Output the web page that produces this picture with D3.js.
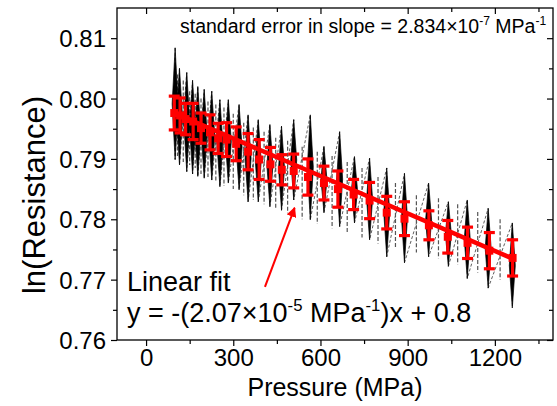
<!DOCTYPE html>
<html>
<head>
<meta charset="utf-8">
<script src="https://cdn.jsdelivr.net/npm/d3@7"></script>
<style>
  html, body { margin: 0; padding: 0; background: #fff; }
  svg { display: block; }
  text { font-family: Arial, "Liberation Sans", sans-serif; fill: #000; }
</style>
</head>
<body>
<svg id="chart" width="557" height="406"></svg>
<script>
// ---- Data ----
// Error-bar points: pressure (MPa), ln(R), standard error
const ptX  = [97, 117, 136, 162, 189, 220, 248, 277, 310, 351, 389, 428, 467, 508, 557, 612, 660, 714, 769, 828, 889, 973, 1038, 1106, 1181, 1261];
const ptY  = [0.7976, 0.7972, 0.7966, 0.7962, 0.7951, 0.7944, 0.7934, 0.7932, 0.7925, 0.7912, 0.7899, 0.7891, 0.7882, 0.7880, 0.7870, 0.7860, 0.7850, 0.7841, 0.7831, 0.7811, 0.7801, 0.7790, 0.7771, 0.7761, 0.7748, 0.7736];
const ptErr = [0.0028, 0.0029, 0.0026, 0.0030, 0.0025, 0.0029, 0.0025, 0.0028, 0.0028, 0.0030, 0.0033, 0.0028, 0.0025, 0.0028, 0.0030, 0.0028, 0.0030, 0.0025, 0.0030, 0.0027, 0.0028, 0.0024, 0.0027, 0.0026, 0.0030, 0.0030];

// Raw (noisy) resistance trace: main spike positions with their high / low extents
const rawX  = [100, 115, 140, 160, 178, 200, 226, 254, 283, 320, 351, 386, 426, 466, 508, 565, 612, 666, 717, 769, 828, 889, 972, 1040, 1105, 1177, 1260];
const rawHi = [0.8084, 0.8050, 0.8043, 0.8030, 0.8020, 0.8015, 0.8012, 0.7998, 0.7998, 0.7990, 0.7973, 0.7965, 0.7957, 0.7954, 0.7965, 0.7973, 0.7921, 0.7945, 0.7904, 0.7901, 0.7885, 0.7876, 0.7860, 0.7829, 0.7832, 0.7818, 0.7794];
const rawLo = [0.7899, 0.7890, 0.7879, 0.7875, 0.7871, 0.7868, 0.7865, 0.7854, 0.7860, 0.7849, 0.7829, 0.7829, 0.7821, 0.7815, 0.7832, 0.7799, 0.7811, 0.7788, 0.7794, 0.7766, 0.7738, 0.7728, 0.7738, 0.7722, 0.7702, 0.7686, 0.7653];
// Secondary (thinner) spikes between the main ones
const raw2X  = [108, 128, 150, 169, 189, 213, 240, 268, 300, 336, 369, 406, 446, 487, 537, 589, 640, 692, 743, 798, 858, 930, 1006, 1072, 1141, 1218];
const raw2Hi = [0.8040, 0.8030, 0.8012, 0.8008, 0.8000, 0.7995, 0.7990, 0.7985, 0.7975, 0.7960, 0.7952, 0.7945, 0.7935, 0.7930, 0.7920, 0.7912, 0.7905, 0.7895, 0.7885, 0.7870, 0.7860, 0.7840, 0.7835, 0.7825, 0.7812, 0.7800];
const raw2Lo = [0.7905, 0.7895, 0.7890, 0.7885, 0.7875, 0.7870, 0.7862, 0.7855, 0.7850, 0.7840, 0.7832, 0.7825, 0.7818, 0.7810, 0.7800, 0.7792, 0.7785, 0.7778, 0.7770, 0.7760, 0.7752, 0.7745, 0.7735, 0.7725, 0.7712, 0.7700];

// Linear fit end points
const fitX = [97, 1265];
const fitY = [0.7976, 0.7734];

// Axis ticks
const xTicks = [0, 300, 600, 900, 1200];
const xMinor = [150, 450, 750, 1050, 1350];
const yTicks = [0.76, 0.77, 0.78, 0.79, 0.80, 0.81];
const yMinor = [0.765, 0.775, 0.785, 0.795, 0.805];

// Texts
const xTitle = "Pressure (MPa)";
const yTitle = "ln(Resistance)";
const fitLabel = "Linear fit";

// ---- Layout ----
const svg = d3.select("#chart");
const PL = 117, PR = 553, PT = 8, PB = 340;
const x = d3.scaleLinear().domain([-100, 1400]).range([PL, PR]);
const y = d3.scaleLinear().domain([0.76, 0.815]).range([PB, PT]);
const red = "#ff0000";

// ---- Raw noisy trace ----
const gRaw = svg.append("g");
const zig = [];
rawX.forEach((v, i) => { zig.push([x(v), y(rawHi[i])]); zig.push([x(v), y(rawLo[i])]); });
gRaw.append("path")
  .attr("d", d3.line()(zig))
  .attr("fill", "none").attr("stroke", "#333").attr("stroke-width", 0.8)
  .attr("stroke-dasharray", "3,2");
raw2X.forEach((v, i) => {
  gRaw.append("line").attr("x1", x(v)).attr("x2", x(v))
    .attr("y1", y(raw2Hi[i])).attr("y2", y(raw2Lo[i]))
    .attr("stroke", "#555").attr("stroke-width", 1.2).attr("stroke-dasharray", "4,2");
});
rawX.forEach((v, i) => {
  const cx = x(v), yh = y(rawHi[i]), yl = y(rawLo[i]), yc = (yh + yl) / 2;
  gRaw.append("path")
    .attr("d", `M${cx},${yh} L${cx + 3},${yc} L${cx},${yl} L${cx - 3},${yc} Z`)
    .attr("fill", "#000").attr("stroke", "#000").attr("stroke-width", 0.7);
});

// ---- Fit line ----
svg.append("path")
  .attr("d", d3.line()(fitX.map((v, i) => [x(v), y(fitY[i])])))
  .attr("stroke", red).attr("stroke-width", 4.5).attr("fill", "none");

// ---- Error bars ----
const gErr = svg.append("g").attr("stroke", red).attr("stroke-width", 3.2);
ptX.forEach((v, i) => {
  const cx = x(v), y1 = y(ptY[i] + ptErr[i]), y2 = y(ptY[i] - ptErr[i]);
  gErr.append("line").attr("x1", cx).attr("x2", cx).attr("y1", y1).attr("y2", y2);
  gErr.append("line").attr("x1", cx - 5.5).attr("x2", cx + 5.5).attr("y1", y1).attr("y2", y1);
  gErr.append("line").attr("x1", cx - 5.5).attr("x2", cx + 5.5).attr("y1", y2).attr("y2", y2);
  svg.append("rect").attr("x", cx - 4).attr("y", y(ptY[i]) - 4)
    .attr("width", 8).attr("height", 8).attr("fill", red);
});

// ---- Axes ----
function styleAxis(g) {
  g.select(".domain").remove();
  g.selectAll("line").attr("stroke", "#000").attr("stroke-width", 1.2);
  g.selectAll("text").style("font-family", 'Arial, "Liberation Sans", sans-serif').attr("fill", "#000");
}
const axBottom = svg.append("g").attr("transform", `translate(0,${PB})`)
  .call(d3.axisBottom(x).tickValues(xTicks).tickSize(6).tickPadding(3).tickFormat(d3.format("d")));
axBottom.selectAll("text").attr("font-size", 24);
styleAxis(axBottom);
const axBottomMinor = svg.append("g").attr("transform", `translate(0,${PB})`)
  .call(d3.axisBottom(x).tickValues(xMinor).tickSize(4).tickFormat(""));
styleAxis(axBottomMinor);

const axLeft = svg.append("g").attr("transform", `translate(${PL},0)`)
  .call(d3.axisLeft(y).tickValues(yTicks).tickSize(6).tickPadding(5).tickFormat(d3.format(".2f")));
axLeft.selectAll("text").attr("font-size", 24).attr("dy", "0.36em");
styleAxis(axLeft);
const axLeftMinor = svg.append("g").attr("transform", `translate(${PL},0)`)
  .call(d3.axisLeft(y).tickValues(yMinor).tickSize(4).tickFormat(""));
styleAxis(axLeftMinor);

const axTop = svg.append("g").attr("transform", `translate(0,${PT})`)
  .call(d3.axisTop(x).tickValues(xTicks).tickSize(-6).tickFormat(""));
styleAxis(axTop);
const axTopMinor = svg.append("g").attr("transform", `translate(0,${PT})`)
  .call(d3.axisTop(x).tickValues(xMinor).tickSize(-4).tickFormat(""));
styleAxis(axTopMinor);
const axRight = svg.append("g").attr("transform", `translate(${PR},0)`)
  .call(d3.axisRight(y).tickValues(yTicks).tickSize(-6).tickFormat(""));
styleAxis(axRight);
const axRightMinor = svg.append("g").attr("transform", `translate(${PR},0)`)
  .call(d3.axisRight(y).tickValues(yMinor).tickSize(-4).tickFormat(""));
styleAxis(axRightMinor);

// Frame
svg.append("rect").attr("x", PL).attr("y", PT).attr("width", PR - PL).attr("height", PB - PT)
  .attr("fill", "none").attr("stroke", "#000").attr("stroke-width", 1.3);

// ---- Titles ----
svg.append("text").attr("x", (PL + PR) / 2).attr("y", 396).attr("text-anchor", "middle")
  .attr("font-size", 25).text(xTitle);
svg.append("text").attr("transform", `translate(45,195) rotate(-90)`)
  .attr("text-anchor", "middle").attr("font-size", 31).text(yTitle);

// ---- Annotations ----
function supText(xp, yp, size, parts) {
  const t = svg.append("text").attr("x", xp).attr("y", yp).attr("font-size", size);
  parts.forEach(p => {
    if (p.sup) {
      t.append("tspan").attr("font-size", size * 0.62).attr("dy", -size * 0.42).text(p.s);
    } else {
      const ts = t.append("tspan").text(p.s);
      if (p.after) ts.attr("dy", size * 0.42);
    }
  });
  return t;
}
supText(180, 33, 19.5, [
  { s: "standard error in slope = 2.834×10" }, { s: "-7", sup: true },
  { s: " MPa", after: true }, { s: "-1", sup: true }
]);

svg.append("text").attr("x", 127).attr("y", 291).attr("font-size", 27).text(fitLabel);
supText(127, 322, 27, [
  { s: "y = -(2.07×10" }, { s: "-5", sup: true },
  { s: " MPa", after: true }, { s: "-1", sup: true },
  { s: ")x + 0.8", after: true }
]);

// Arrow
svg.append("defs").append("marker").attr("id", "ah")
  .attr("viewBox", "0 0 10 10").attr("refX", 9).attr("refY", 5)
  .attr("markerWidth", 5).attr("markerHeight", 5).attr("orient", "auto")
  .append("path").attr("d", "M0,0 L10,5 L0,10 Z").attr("fill", red);
svg.append("line").attr("x1", x(409)).attr("y1", y(0.7688)).attr("x2", x(511)).attr("y2", y(0.7819))
  .attr("stroke", red).attr("stroke-width", 2).attr("marker-end", "url(#ah)");
</script>
</body>
</html>
